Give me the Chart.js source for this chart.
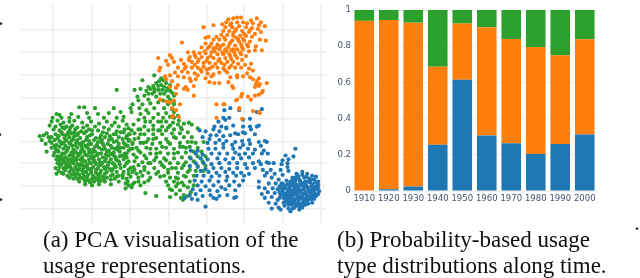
<!DOCTYPE html>
<html>
<head>
<meta charset="utf-8">
<script src="https://cdn.jsdelivr.net/npm/chart.js@4"></script>
<style>
  html, body { margin: 0; padding: 0; background: #fff; }
  body { position: relative; width: 640px; height: 278px; overflow: hidden; }
  .box { position: absolute; top: 0; filter: blur(0.4px); }
  .caption { position: absolute; font-family: "Liberation Serif", serif; font-size: 23px; line-height: 26px; color: #111; white-space: nowrap; filter: blur(0.3px); }
  .speck { position: absolute; font-family: "Liberation Serif", serif; font-size: 16px; line-height: 16px; font-weight: bold; color: #222; }
</style>
</head>
<body>
<div class="box" style="left:0;width:330px;height:228px"><canvas id="pcaChart"></canvas></div>
<div class="box" style="left:330px;width:310px;height:210px"><canvas id="usageChart"></canvas></div>
<div class="caption" style="left:43px;top:227px">(a) PCA visualisation of the<br>usage representations.</div>
<div class="caption" style="left:337px;top:227px">(b) Probability-based usage<br>type distributions along time.</div>
<span class="speck" style="left:-1px;top:12px">.</span>
<span class="speck" style="left:-2px;top:123px">.</span>
<span class="speck" style="left:-1px;top:188px">.</span>
<span class="speck" style="left:635px;top:217px">.</span>
<script>
  const decades = ["1910", "1920", "1930", "1940", "1950", "1960", "1970", "1980", "1990", "2000"];
  const blueShare = [0, 0.01, 0.025, 0.255, 0.615, 0.307, 0.264, 0.205, 0.26, 0.312];
  const orangeShare = [0.94, 0.935, 0.905, 0.432, 0.31, 0.598, 0.576, 0.59, 0.49, 0.526];
  const greenShare = [0.06, 0.055, 0.07, 0.313, 0.075, 0.095, 0.16, 0.205, 0.25, 0.162];
  const shareTicks = [0, 0.2, 0.4, 0.6, 0.8, 1];

  const pcaTicksX = [53, 92.5, 131, 171, 209, 247, 286, 325];
  const pcaTicksY = [27, 50, 73, 97, 119, 143, 165, 188, 212];

  const orangePoints = [
    [244,14],[240,14],[236,15],[231,16],[260,15],[254,17],[264,19],[268,23],[262,22],[256,20],[250,20],[246,19],[240,19],[234,20],[229,19],[225,21],[216,22],[206,24],
    [228,24],[235,24],[242,23],[249,24],[255,25],[261,26],[226,28],[232,28],[238,28],[245,28],[252,29],[258,31],[264,29],[224,32],[230,32],[236,33],[243,33],[249,33],[255,34],
    [269,38],[263,37],[219,34],[211,34],[208,35],[216,37],[222,37],[228,37],[235,38],[241,37],[247,38],[253,39],[184,40],[208,41],[214,41],[220,42],[226,42],[232,42],[238,43],
    [244,42],[250,42],[259,44],[265,48],[258,48],[204,45],[210,46],[216,46],[222,47],[228,47],[234,48],[240,47],[246,47],[252,49],[190,50],[196,50],[202,51],[208,51],[214,50],
    [220,52],[226,52],[232,52],[238,53],[244,52],[249,54],[160,56],[172,53],[174,56],[183,58],[192,55],[198,55],[204,55],[210,56],[216,56],[222,57],[228,56],[234,57],[240,56],
    [245,58],[168,59],[176,60],[186,62],[194,60],[200,60],[206,61],[212,61],[218,62],[224,61],[230,60],[236,60],[248,63],[254,62],[162,66],[170,63],[180,66],[188,65],[194,66],
    [200,66],[206,65],[212,67],[220,66],[226,67],[232,66],[238,66],[244,66],[252,67],[161,69],[177,71],[184,70],[190,71],[197,72],[204,70],[210,72],[216,73],[230,71],[240,74],
    [250,72],[256,69],[167,75],[172,74],[180,75],[186,76],[192,77],[200,74],[208,77],[214,75],[233,76],[240,76],[246,75],[253,76],[256,78],[168,78],[174,80],[193,80],[198,78],
    [260,80],[262,77],[259,83],[263,83],[270,82],[212,81],[217,82],[222,82],[231,81],[235,85],[180,84],[188,86],[196,85],[258,86],[262,85],[172,86],[178,87],[186,88],[190,89],
    [236,87],[266,90],[262,94],[258,95],[178,93],[196,95],[245,93],[251,96],[265,92],[162,99],[168,101],[176,100],[244,96],[239,100],[254,99],[240,99],[174,108],[178,110],
    [227,104],[242,108],[226,104],[256,111],[262,112],[175,116],[181,117],[174,117],[263,113],[219,118],[242,109],[172,102],[182,104],[219,104],[245,119],
    [233,22],[239,26],[247,31],[253,27],[227,35],[233,40],[239,35],[245,45],[237,50],[231,45],[225,50],[219,45],[213,54],[207,49],[201,58],[197,63],[209,59],[215,65],[221,59],[227,63],
    [233,54],[241,62],[203,68],[197,53],[191,58],[187,67],[209,68],[236,30],[242,39],[251,44],[236,47],[223,44],[217,49],[212,44],[229,49],[243,50],[234,64],[228,69],[222,71],[246,36]
  ];

  const bluePoints = [
    [227,110],[233,108],[242,110],[265,109],[260,112],[226,118],[232,118],[221,122],[228,120],[246,120],[253,119],[217,127],[224,127],[229,128],[236,126],[246,127],[253,127],
    [260,127],[208,132],[216,130],[222,132],[229,129],[238,134],[246,133],[254,130],[262,126],[213,136],[219,136],[226,137],[233,136],[241,135],[248,134],[258,135],[202,131],
    [205,138],[212,140],[222,141],[229,142],[238,143],[245,142],[252,141],[262,143],[268,142],[210,144],[218,144],[226,145],[235,146],[246,146],[253,145],[264,147],[270,143],
    [193,152],[200,152],[211,150],[218,150],[226,149],[236,150],[243,149],[251,150],[258,151],[267,152],[299,150],[198,155],[205,156],[214,155],[222,155],[230,155],[238,154],
    [242,156],[248,155],[256,155],[265,155],[271,155],[289,157],[297,158],[193,160],[203,160],[210,161],[220,160],[228,161],[236,160],[244,160],[252,159],[262,163],[286,162],
    [292,161],[198,165],[206,165],[214,166],[222,165],[232,165],[240,165],[248,166],[256,165],[264,166],[270,164],[285,166],[291,165],[192,168],[200,169],[208,171],[216,170],
    [224,170],[232,171],[240,170],[250,170],[258,170],[272,165],[277,165],[291,169],[203,173],[211,174],[219,175],[228,174],[236,175],[244,175],[252,176],[266,172],[274,172],
    [284,172],[292,173],[199,178],[206,178],[214,179],[222,178],[230,179],[239,178],[247,178],[270,175],[278,176],[286,177],[197,183],[204,184],[212,183],[221,184],[229,183],
    [237,184],[246,183],[268,178],[275,180],[282,182],[200,188],[208,189],[216,188],[224,190],[232,188],[242,188],[262,184],[272,186],[279,186],[195,192],[203,193],[212,193],
    [220,194],[228,192],[238,193],[262,190],[268,191],[276,191],[283,189],[192,198],[198,197],[205,199],[213,198],[222,199],[230,198],[239,200],[265,197],[271,195],[278,196],
    [187,201],[194,202],[200,203],[216,201],[219,202],[237,201],[268,201],[275,200],[281,203],[208,210],[272,206],[279,207],[287,206],[275,212],[282,211],[292,212],[294,215],
    [284,213],[288,209],
    [300,176],[306,174],[311,176],[316,178],[320,179],[296,180],[302,179],[308,180],[313,181],[318,182],[290,183],[294,184],[299,183],[304,184],[309,184],[314,185],[319,185],[322,184],
    [287,187],[291,187],[296,188],[300,187],[305,188],[310,188],[315,189],[320,189],[284,190],[289,191],[293,191],[298,191],[302,191],[307,192],[312,192],[317,192],[321,192],[323,194],
    [286,194],[291,195],[295,195],[300,194],[304,195],[309,195],[314,196],[318,195],[322,197],[284,198],[288,198],[293,198],[297,198],[302,198],[306,199],[311,199],[316,198],[320,199],
    [287,201],[291,202],[295,201],[299,202],[304,202],[308,202],[313,202],[318,202],[290,205],[294,205],[298,205],[302,206],[307,205],[311,205],[316,206],[295,208],[300,209],[304,209],
    [309,208],[296,212],[303,213],[298,211],[306,211],[283,195],[281,192],[301,177],[293,187],[310,179],
    [288,189],[292,193],[297,186],[302,189],[306,186],[311,190],[316,187],[290,197],[295,193],[300,197],[305,193],[310,197],[315,193],[319,197],[289,200],[294,199],[298,204],[303,200],
    [308,204],[313,200],[292,204],[300,207],[305,207],[287,196],[283,201],[296,183],[303,182],[312,184],[318,190],[299,192],[307,197],[302,203],[295,197],[310,201],
    [293,189],[298,195],[303,193],[308,190],[313,194],[317,200],[286,192],[291,199],[296,203],[301,199],[306,201],[311,203],[315,202],[298,189],[304,186],[309,186],[294,201],[289,203],
    [319,192],[322,190],[297,207],[303,210],[292,208],[312,207],[307,208],[285,186],[299,180],[306,177],[315,182],[322,187]
  ];

  const greenPoints = [
    [156,74],[163,77],[144,79],[118,89],[136,89],[142,88],[150,86],[155,85],[158,82],[161,80],[165,79],[168,82],[172,84],[148,90],[152,88],[156,88],[160,85],[163,84],[166,86],[170,87],
    [156,91],[160,89],[164,89],[168,90],[172,90],[150,93],[154,93],[162,93],[166,93],[174,92],[139,96],[146,95],[158,96],[170,96],[176,95],[140,100],[150,99],[165,100],[172,99],[176,101],
    [134,104],[144,104],[152,103],[160,102],[170,104],[176,104],[132,108],[141,108],[148,110],[156,108],[166,108],[174,109],[133,112],[142,114],[150,113],[160,114],[168,113],[176,112],
    [146,118],[155,118],[165,118],[172,117],[180,116],[140,120],[152,122],[160,122],[168,122],[175,123],[181,121],[135,125],[146,127],[155,126],[164,127],[172,126],[180,125],[186,124],
    [130,129],[142,130],[150,131],[160,131],[168,131],[176,130],[184,130],[191,123],[194,125],[125,133],[136,134],[146,135],[155,135],[164,135],[174,134],[182,134],[190,133],[200,129],
    [128,139],[140,139],[150,140],[158,139],[168,140],[178,139],[186,138],[194,138],[134,144],[145,144],[154,145],[162,144],[172,145],[182,144],[190,143],[198,144],[206,143],[138,149],
    [148,149],[158,150],[168,149],[176,150],[185,148],[192,148],[200,149],[142,154],[152,155],[162,154],[170,155],[180,154],[188,154],[196,153],[204,153],[138,159],[148,160],[158,159],
    [166,160],[176,160],[184,159],[192,159],[200,158],[208,158],[136,163],[144,164],[152,165],[162,164],[172,165],[180,165],[188,164],[196,163],[205,163],[135,169],[146,169],[156,170],
    [166,169],[174,170],[184,170],[192,168],[200,168],[208,168],[134,174],[142,174],[150,175],[160,174],[170,175],[180,175],[190,174],[198,173],[206,173],[132,179],[140,180],[152,180],
    [162,179],[172,180],[180,181],[188,179],[196,178],[129,184],[136,185],[146,185],[168,184],[176,184],[184,185],[192,184],[130,188],[134,187],[142,188],[170,188],[178,189],[186,188],
    [127,191],[133,190],[174,193],[182,193],[190,190],[196,188],[178,197],[186,198],[193,195],[147,196],[158,199],[172,200],[183,201],[190,199],[185,203],
    [80,107],[85,107],[96,108],[115,108],[122,112],[110,113],[99,114],[88,113],[72,114],[60,115],[57,114],[53,118],[62,118],[70,118],[79,117],[90,118],[105,118],[118,118],[125,117],
    [52,122],[58,121],[64,123],[70,122],[75,121],[83,123],[92,122],[100,124],[108,122],[116,123],[124,121],[50,126],[56,127],[61,125],[67,127],[73,126],[78,128],[88,126],[96,127],[105,128],
    [113,126],[120,127],[128,125],[54,130],[60,131],[65,129],[70,131],[76,130],[82,132],[90,130],[99,131],[110,130],[118,132],[126,130],[133,131],[47,134],[56,135],[62,133],[68,135],[72,134],
    [78,136],[85,134],[93,135],[102,136],[108,134],[115,135],[122,133],[131,135],[40,137],[44,136],[52,138],[59,137],[65,139],[70,138],[75,137],[81,139],[88,138],[97,139],[106,138],[113,140],
    [120,138],[128,137],[42,141],[50,142],[55,141],[61,143],[67,141],[72,142],[78,141],[84,143],[90,142],[95,141],[102,143],[110,141],[118,142],[125,144],[131,141],[46,145],[57,146],[62,145],
    [66,147],[71,145],[76,146],[80,145],[86,147],[92,145],[98,146],[104,145],[112,147],[120,145],[127,146],[134,145],[52,149],[56,150],[60,148],[64,150],[69,149],[74,151],[78,149],[83,150],
    [88,149],[94,151],[100,149],[106,150],[113,149],[119,151],[125,149],[132,150],[47,153],[55,154],[59,153],[63,155],[67,153],[72,154],[76,153],[81,155],[85,153],[90,154],[96,153],[102,155],
    [108,153],[115,154],[121,153],[128,155],[54,157],[58,158],[62,157],[66,159],[70,157],[74,158],[79,157],[83,159],[88,157],[92,158],[98,157],[104,159],[110,157],[116,158],[123,157],[57,161],
    [60,162],[64,161],[68,163],[72,161],[77,162],[81,161],[86,163],[90,161],[95,162],[100,161],[106,163],[112,161],[118,162],[125,161],[58,165],[62,166],[66,165],[70,167],[74,165],[78,166],
    [82,165],[87,167],[92,165],[97,166],[103,165],[109,167],[114,165],[121,166],[60,169],[64,170],[68,169],[72,171],[76,169],[80,170],[85,169],[89,171],[94,169],[99,170],[105,169],[111,171],
    [117,169],[59,173],[65,172],[70,174],[74,173],[78,175],[83,173],[87,174],[92,173],[97,175],[102,173],[108,174],[113,173],[125,174],[72,177],[76,178],[80,177],[85,179],[89,177],[94,178],
    [99,177],[104,179],[112,178],[120,178],[84,181],[88,182],[93,181],[98,182],[105,181],[116,181],[128,181],[91,185],[100,184],[112,187],[127,186],[120,184],
    [63,128],[69,133],[74,140],[79,134],[84,128],[58,139],[64,144],[68,151],[73,147],[77,143],[82,147],[87,141],[91,136],[96,148],[101,139],[105,147],[110,152],[115,143],[119,148],
    [58,152],[61,159],[65,155],[69,161],[73,156],[77,160],[82,152],[86,156],[90,151],[94,160],[99,155],[103,151],[107,160],[112,155],[117,160],[60,166],[64,163],[68,167],[72,164],
    [76,171],[80,167],[84,162],[88,169],[92,171],[96,164],[101,167],[106,171],[110,164],[116,167],[66,172],[71,169],[75,176],[79,172],[84,176],[88,179],[92,175],[97,172],[101,176],
    [106,176],[81,180],[86,184],[95,184],[100,180],[66,136],[71,128],[75,133],[87,132],[93,131],[104,133],[111,137],[117,135],[124,140],[129,147],[122,149],[126,155],[130,142],
    [60,142],[55,147],[52,144],[49,138],[63,135],[66,142],[70,144],[74,154],[78,155],[83,144],[89,146],[93,154],[99,143],[103,141],[109,145],[116,150],[121,158],[114,156],[107,156],
    [56,170],[62,175],[68,178],[74,181],[80,184],[86,187],[93,188],[100,187],[106,184],[112,182],[118,179],[124,177],[130,172],[126,168],[122,170],[118,174],[114,177],[108,180],[102,183],
    [96,180],[90,183],[84,171],[78,181],[70,180],[64,176],[57,176],[66,169],[62,160],[75,162],[83,167],[90,165],[95,158],[101,164],[108,169],[114,171],[120,163],[126,158],[130,163],
    [130,135],[136,140],[142,135],[148,143],[155,140],[162,131],[140,152],[146,157],[152,150],[158,155],[164,148],[170,143],[176,138],[182,148],[150,165],[156,162],[164,167],[170,172],
    [178,170],[186,167],[192,172],[186,178],[180,186],[172,192],[178,180],[140,167],[146,172],[150,183],[158,176],[166,178],[128,165],[132,170],[138,176],[130,152],[135,156],[140,130],
    [147,122],[155,130],[163,122],[170,128],[176,118],[183,128],[124,180],[130,176],[136,172],[144,178],[140,184],[128,159],[134,150],[142,144],[188,149],[194,143],[176,155],[168,162]
  ];

  new Chart(document.getElementById("pcaChart"), {
    type: "scatter",
    data: {
      datasets: [
        { data: orangePoints.map(([x, y]) => ({ x, y })), backgroundColor: "#ff7f0e" },
        { data: bluePoints.map(([x, y]) => ({ x, y })), backgroundColor: "#1f77b4" },
        { data: greenPoints.map(([x, y]) => ({ x, y })), backgroundColor: "#2ca02c" },
      ],
    },
    options: {
      responsive: true,
      maintainAspectRatio: false,
      animation: false,
      layout: { padding: { left: 21 } },
      elements: { point: { radius: 2.1, borderWidth: 0 } },
      scales: {
        x: {
          min: 21,
          max: 330,
          afterBuildTicks: (axis) => { axis.ticks = pcaTicksX.map((value) => ({ value })); },
          ticks: { display: false },
          border: { display: false },
          grid: { color: "#eeeeee", lineWidth: 1.5, drawTicks: false },
        },
        y: {
          reverse: true,
          min: 0,
          max: 228,
          afterBuildTicks: (axis) => { axis.ticks = pcaTicksY.map((value) => ({ value })); },
          ticks: { display: false },
          border: { display: false },
          grid: { color: "#eeeeee", lineWidth: 1.5, drawTicks: false },
        },
      },
      plugins: { legend: { display: false }, tooltip: { enabled: false } },
    },
  });

  new Chart(document.getElementById("usageChart"), {
    type: "bar",
    data: {
      labels: decades,
      datasets: [
        { label: "blue", data: blueShare, backgroundColor: "#1f77b4" },
        { label: "orange", data: orangeShare, backgroundColor: "#ff7f0e" },
        { label: "green", data: greenShare, backgroundColor: "#2ca02c" },
      ],
    },
    options: {
      responsive: true,
      maintainAspectRatio: false,
      animation: false,
      layout: { padding: { top: 10, right: 43 } },
      datasets: { bar: { barPercentage: 0.8, categoryPercentage: 1 } },
      scales: {
        x: {
          stacked: true,
          afterFit: (axis) => { axis.height = 19; },
          ticks: { color: "#44546f", font: { family: "DejaVu Sans", size: 8.5 }, padding: -5, maxRotation: 0, autoSkip: false },
          border: { display: false },
          grid: { display: false },
        },
        y: {
          stacked: true,
          min: 0,
          max: 1,
          afterFit: (axis) => { axis.width = 22; },
          afterBuildTicks: (axis) => { axis.ticks = shareTicks.map((value) => ({ value })); },
          ticks: { color: "#44546f", font: { family: "DejaVu Sans", size: 8.5 }, padding: 1, callback: (value) => String(value) },
          border: { display: false },
          grid: { color: "#eeeeee", lineWidth: 1, drawTicks: false },
        },
      },
      plugins: { legend: { display: false }, tooltip: { enabled: false } },
    },
  });
</script>
</body>
</html>
